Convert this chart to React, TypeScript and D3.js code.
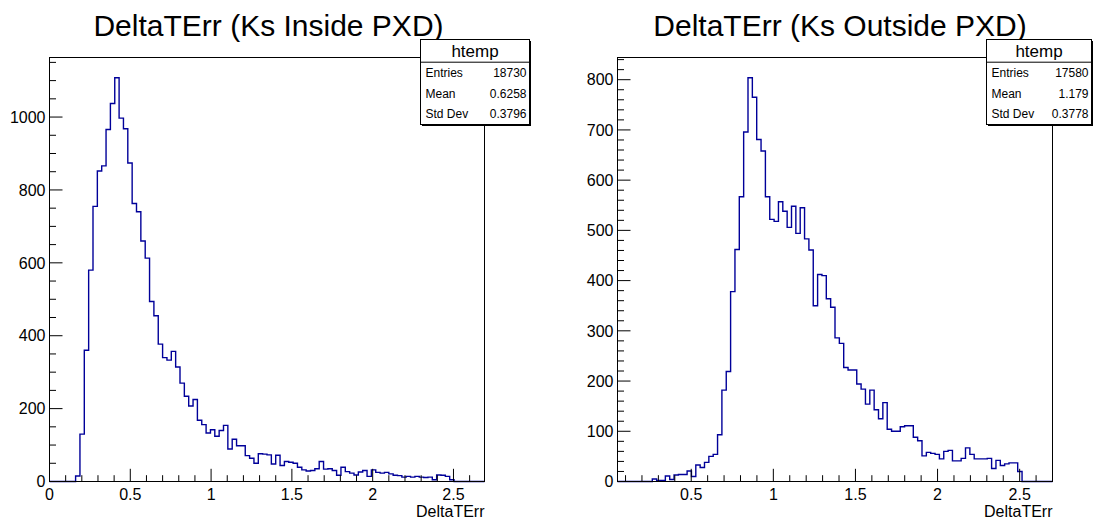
import React from "react";
import * as d3 from "d3";

// ---------- data ----------
const LEFT_TITLE = "DeltaTErr (Ks Inside PXD)";
const RIGHT_TITLE = "DeltaTErr (Ks Outside PXD)";
const X_AXIS_TITLE = "DeltaTErr";
const STAT_HEADER = "htemp";
const STAT_LABELS = ["Entries", "Mean", "Std Dev"];
const LEFT_STATS = ["18730", "0.6258", "0.3796"];
const RIGHT_STATS = ["17580", "1.179", "0.3778"];

const LEFT_X_RANGE = [0, 2.692];
const RIGHT_X_RANGE = [0.051, 2.7];

const LEFT_COUNTS = [
  0, 0, 0, 0, 0, 0, 15, 130, 360, 580,
  755, 852, 866, 966, 1037, 1108, 997, 968, 874, 763,
  740, 660, 613, 494, 455, 377, 340, 333, 357, 314,
  270, 234, 207, 225, 168, 156, 133, 142, 124, 140,
  154, 89, 116, 98, 98, 71, 64, 50, 76, 75,
  73, 48, 72, 44, 55, 53, 50, 39, 32, 29,
  30, 35, 55, 34, 35, 30, 17, 39, 27, 23,
  18, 26, 30, 14, 32, 25, 23, 25, 21, 17,
  16, 12, 14, 12, 14, 12, 11, 12, 5, 18,
  17, 14, 5, 0, 0, 0, 0, 0, 0, 0,
];

const RIGHT_COUNTS = [
  0, 0, 0, 0, 0, 0, 0, 0, 5, 2,
  2, 11, 4, 13, 14, 14, 21, 10, 33, 28,
  38, 50, 54, 93, 182, 219, 378, 462, 567, 696,
  804, 765, 681, 658, 567, 522, 518, 557, 538, 506,
  548, 494, 545, 483, 461, 350, 412, 410, 364, 347,
  286, 275, 227, 222, 222, 194, 184, 154, 182, 143,
  125, 157, 104, 100, 100, 109, 111, 111, 88, 81,
  51, 58, 56, 54, 45, 60, 62, 41, 41, 46,
  67, 54, 45, 45, 45, 46, 26, 42, 32, 35,
  37, 37, 20, 0, 0, 0, 0, 0, 0, 0,
];

const LEFT_X_TICKS = [0, 0.5, 1, 1.5, 2, 2.5];
const LEFT_X_TICK_LABELS = ["0", "0.5", "1", "1.5", "2", "2.5"];
const RIGHT_X_TICKS = [0.5, 1, 1.5, 2, 2.5];
const RIGHT_X_TICK_LABELS = ["0.5", "1", "1.5", "2", "2.5"];
const LEFT_Y_TICKS = [0, 200, 400, 600, 800, 1000];
const RIGHT_Y_TICKS = [0, 100, 200, 300, 400, 500, 600, 700, 800];

const FONT = "'Liberation Sans', Arial, Helvetica, sans-serif";
const LINE_COLOR = "#000099";

type PanelProps = {
  counts: number[];
  xRange: number[];
  xTicks: number[];
  xTickLabels: string[];
  yTicks: number[];
  yMinorStep: number;
  frame: { x0: number; x1: number; y0: number; y1: number };
  title: string;
  titleX: number;
  stats: string[];
  box: { x0: number; x1: number; y0: number; y1: number };
};

function Panel(p: PanelProps) {
  const { frame, box } = p;
  const n = p.counts.length;
  const maxC = d3.max(p.counts) as number;
  const x = d3.scaleLinear().domain(p.xRange).range([frame.x0, frame.x1]);
  const y = d3.scaleLinear().domain([0, maxC * 1.05]).range([frame.y1, frame.y0]);
  const bw = (p.xRange[1] - p.xRange[0]) / n;

  const pts: [number, number][] = [[p.xRange[0], 0]];
  p.counts.forEach((c, i) => {
    const a = p.xRange[0] + i * bw;
    pts.push([a, c]);
    pts.push([a + bw, c]);
  });
  pts.push([p.xRange[1], 0]);
  const line = d3
    .line<[number, number]>()
    .x((d) => x(d[0]))
    .y((d) => y(d[1]));

  // minor ticks
  const xMinor = d3.range(Math.ceil(p.xRange[0] * 10 - 1e-6), Math.floor(p.xRange[1] * 10 + 1e-6) + 1).map((v) => v / 10);
  const yMax = maxC * 1.05;
  const yMinor = d3.range(0, yMax + 1e-6, p.yMinorStep);
  const majX = 12.7;
  const minX = 6.3;
  const majY = 13;
  const minY = 6.5;

  const rowH = (box.y1 - box.y0 - 22.7) / 3;

  return (
    <g>
      <text x={p.titleX} y={36} textAnchor="middle" fontFamily={FONT} fontSize={30} fill="#000">
        {p.title}
      </text>
      {/* histogram */}
      <path d={line(pts) as string} fill="none" stroke={LINE_COLOR} strokeWidth={1.4} />
      {/* frame */}
      <rect x={frame.x0} y={frame.y0} width={frame.x1 - frame.x0} height={frame.y1 - frame.y0} fill="none" stroke="#000" strokeWidth={1} />
      {/* x ticks */}
      {xMinor.map((v, i) => {
        const isMajor = Math.abs(v * 2 - Math.round(v * 2)) < 1e-6;
        return (
          <line key={"xm" + i} x1={x(v)} x2={x(v)} y1={frame.y1} y2={frame.y1 - (isMajor ? majX : minX)} stroke="#000" strokeWidth={1} />
        );
      })}
      {p.xTicks.map((v, i) => (
        <text key={"xl" + i} x={x(v)} y={frame.y1 + 18} textAnchor="middle" fontFamily={FONT} fontSize={16} fill="#000">
          {p.xTickLabels[i]}
        </text>
      ))}
      <text x={frame.x1} y={517} textAnchor="end" fontFamily={FONT} fontSize={16} fill="#000">
        {X_AXIS_TITLE}
      </text>
      {/* y ticks */}
      {yMinor.map((v, i) => {
        const isMajor = p.yTicks.indexOf(Math.round(v)) >= 0;
        return (
          <line key={"ym" + i} x1={frame.x0} x2={frame.x0 + (isMajor ? majY : minY)} y1={y(v)} y2={y(v)} stroke="#000" strokeWidth={1} />
        );
      })}
      {p.yTicks.map((v, i) => (
        <text key={"yl" + i} x={frame.x0 - 4} y={y(v) + 5.7} textAnchor="end" fontFamily={FONT} fontSize={16} fill="#000">
          {String(v)}
        </text>
      ))}
      {/* stats box */}
      <rect x={box.x0 + 1.5} y={box.y0 + 1.5} width={box.x1 - box.x0} height={box.y1 - box.y0} fill="#000" />
      <rect x={box.x0} y={box.y0} width={box.x1 - box.x0} height={box.y1 - box.y0} fill="#fff" stroke="#000" strokeWidth={1} />
      <line x1={box.x0} x2={box.x1} y1={box.y0 + 22.7} y2={box.y0 + 22.7} stroke="#000" strokeWidth={1} />
      <text x={(box.x0 + box.x1) / 2} y={box.y0 + 17.5} textAnchor="middle" fontFamily={FONT} fontSize={17} fill="#000">
        {STAT_HEADER}
      </text>
      {STAT_LABELS.map((lab, i) => (
        <g key={"st" + i}>
          <text x={box.x0 + 5} y={box.y0 + 22.7 + rowH * (i + 0.5) + 4.3} fontFamily={FONT} fontSize={12} fill="#000">
            {lab}
          </text>
          <text x={box.x1 - 3} y={box.y0 + 22.7 + rowH * (i + 0.5) + 4.3} textAnchor="end" fontFamily={FONT} fontSize={12} fill="#000">
            {p.stats[i]}
          </text>
        </g>
      ))}
    </g>
  );
}

export default function App() {
  return (
    <svg
      width={1094}
      height={523}
      style={{ position: "absolute", left: 0, top: 0, background: "#fff" }}
    >
      <rect x={0} y={0} width={1094} height={523} fill="#fff" />
      <Panel
        counts={LEFT_COUNTS}
        xRange={LEFT_X_RANGE}
        xTicks={LEFT_X_TICKS}
        xTickLabels={LEFT_X_TICK_LABELS}
        yTicks={LEFT_Y_TICKS}
        yMinorStep={50}
        frame={{ x0: 49.5, x1: 484.5, y0: 57.5, y1: 481.5 }}
        title={LEFT_TITLE}
        titleX={268.5}
        stats={LEFT_STATS}
        box={{ x0: 420.5, x1: 529.5, y0: 39.5, y1: 124.5 }}
      />
      <Panel
        counts={RIGHT_COUNTS}
        xRange={RIGHT_X_RANGE}
        xTicks={RIGHT_X_TICKS}
        xTickLabels={RIGHT_X_TICK_LABELS}
        yTicks={RIGHT_Y_TICKS}
        yMinorStep={20}
        frame={{ x0: 617.5, x1: 1052.5, y0: 57.5, y1: 481.5 }}
        title={RIGHT_TITLE}
        titleX={840}
        stats={RIGHT_STATS}
        box={{ x0: 986.5, x1: 1091.5, y0: 39.5, y1: 124.5 }}
      />
    </svg>
  );
}
